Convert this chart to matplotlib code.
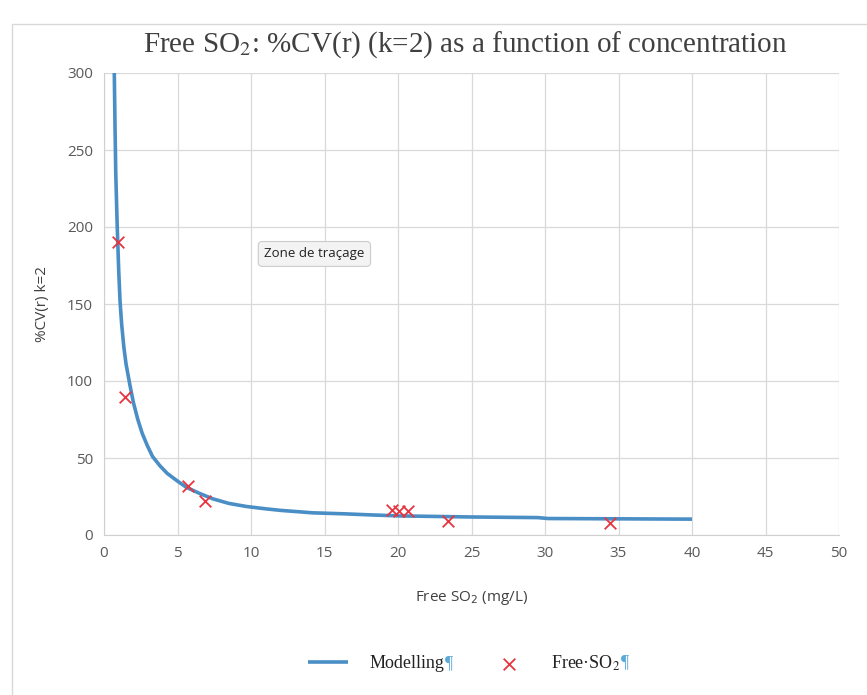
import matplotlib
matplotlib.use("Agg")
from matplotlib import pyplot as plt
from matplotlib.patches import Rectangle

# modelling curve
model_x = [0.7, 0.75, 0.8, 0.9, 1.0, 1.09, 1.2, 1.35, 1.5, 1.77, 2.0, 2.3, 2.6, 2.95, 3.3,
           3.8, 4.3, 5.0, 5.6, 6.5, 7.4, 8.5, 9.7, 11, 12, 14.2, 16.5, 18, 20.1, 25, 29.5,
           30.2, 35, 40]
model_y = [300, 265, 235, 200, 172, 152, 137, 122, 111, 97, 86, 75, 66, 58, 51,
           45, 40, 35, 31, 27, 23.5, 20.5, 18.5, 17, 16, 14.4, 13.7, 13.1, 12.4, 11.7, 11.3,
           10.7, 10.5, 10.3]

# measured points
pts_x = [0.93, 1.43, 5.7, 6.85, 19.6, 20.1, 20.7, 23.4, 34.4]
pts_y = [190.5, 89.8, 31.5, 22, 16, 15.5, 15.5, 9, 7.8]

xticks = [0, 5, 10, 15, 20, 25, 30, 35, 40, 45, 50]
yticks = [0, 50, 100, 150, 200, 250, 300]

fig = plt.figure(figsize=(8.67, 6.95), dpi=100)
fig.patches.append(Rectangle((12/867, -0.01), 1.0, 1 - 24/695 + 0.01, transform=fig.transFigure,
                             fill=False, edgecolor='#d9d9d9', lw=1.0))

ax = fig.add_axes([104/867, 1 - 535/695, (839 - 104)/867, (535 - 73)/695])
ax.plot(model_x, model_y, color='#4a8ec6', lw=2.6, label='Modelling', zorder=3,
        solid_joinstyle='round', solid_capstyle='butt')
ax.scatter(pts_x, pts_y, marker='x', color='#e8343f', s=70, linewidths=1.3, label='Free·SO$_2$', zorder=4)

ax.set_xlim(0, 50)
ax.set_ylim(0, 300)
ax.set_xticks(xticks)
ax.set_yticks(yticks)
ax.grid(True, color='#d9d9d9', lw=0.9)
ax.set_axisbelow(True)
for s in ['top', 'right']:
    ax.spines[s].set_visible(False)
for s in ['left', 'bottom']:
    ax.spines[s].set_color('#d0d0d0')
ax.tick_params(length=0, labelsize=11, labelcolor='#595959', pad=8)
for lab in ax.get_xticklabels() + ax.get_yticklabels():
    lab.set_family('Open Sans')

ax.set_xlabel('Free SO$_2$ (mg/L)', fontsize=11, color='#404040', family='Open Sans', labelpad=20)
ax.set_ylabel('%CV(r) k=2', fontsize=11, color='#404040', family='Open Sans', labelpad=12)

fig.text(0.537, 1 - 45/695, 'Free SO$_2$: %CV(r) (k=2) as a function of concentration',
         ha='center', va='center', fontsize=21, family='Liberation Serif', color='#404040',
         math_fontfamily='stix')

ax.text(10.9, 182.5, 'Zone de traçage', fontsize=9.5, family='Open Sans', color='#222222',
        va='center', ha='left', zorder=6,
        bbox=dict(boxstyle='round,pad=0.45,rounding_size=0.3', fc='#f3f3f3', ec='#cccccc', lw=0.8))

leg = fig.legend(loc='center', bbox_to_anchor=(0.535, 1 - 663/695), ncol=2, frameon=False,
                 prop={'family': 'Liberation Serif', 'size': 13}, handlelength=2.2,
                 columnspacing=2.5, handletextpad=1.2)
for t in leg.get_texts():
    t.set_math_fontfamily('stix')
    t.set_color('#222222')

# blue paragraph marks after legend labels
fig.canvas.draw()
r = fig.canvas.get_renderer()
for t in leg.get_texts():
    bb = t.get_window_extent(r)
    fig.text((bb.x1 + 1) / 867, (bb.y0 + bb.y1) / 2 / 695, '¶', color='#5aa9d6',
             fontsize=13, family='Liberation Serif', va='center', ha='left')

plt.savefig('out.png', dpi=100)
